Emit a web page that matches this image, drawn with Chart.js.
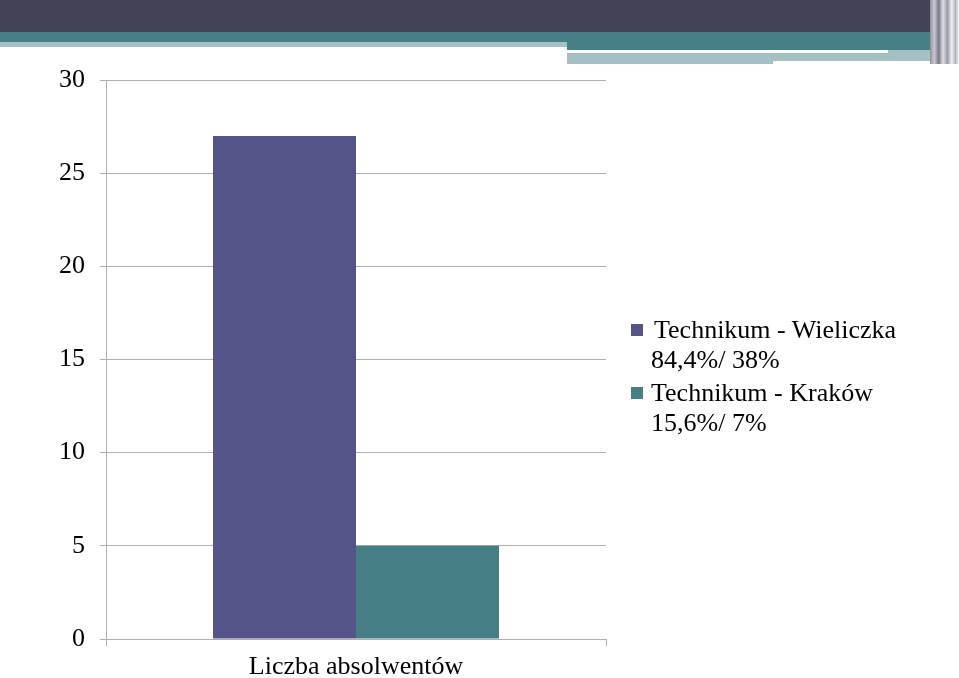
<!DOCTYPE html>
<html>
<head>
<meta charset="utf-8">
<script src="https://cdn.jsdelivr.net/npm/chart.js@4"></script>
<style>
  html,body{margin:0;padding:0;background:#fff;}
  #wrap{position:relative;width:959px;height:678px;overflow:hidden;font-family:"Liberation Serif",serif;}
  .deco{position:absolute;}
  #chartBox{position:absolute;left:0;top:0;width:959px;height:678px;}
  #legend{position:absolute;left:631px;top:315px;font-size:26px;color:#000;line-height:30px;}
  .item{position:relative;padding-left:20px;margin-bottom:3px;}
  .sw{position:absolute;left:0;top:9px;width:12px;height:12px;}
</style>
</head>
<body>
<div id="wrap">
  <!-- slide header decoration -->
  <div class="deco" style="left:0;top:0;width:959px;height:32px;background:#424355;"></div>
  <div class="deco" style="left:0;top:32px;width:959px;height:10px;background:#467f84;"></div>
  <div class="deco" style="left:0;top:42px;width:567px;height:5px;background:#a4c0c3;"></div>
  <div class="deco" style="left:567px;top:42px;width:370px;height:8px;background:#467f84;"></div>
  <div class="deco" style="left:567px;top:50px;width:321px;height:3px;background:#ffffff;"></div>
  <div class="deco" style="left:888px;top:50px;width:49px;height:3px;background:#a4c0c3;"></div>
  <div class="deco" style="left:567px;top:53px;width:206px;height:11px;background:#a4c0c3;"></div>
  <div class="deco" style="left:773px;top:53px;width:164px;height:8px;background:#a4c0c3;"></div>
  <div class="deco" style="left:930px;top:0;width:29px;height:64px;background:linear-gradient(90deg,#8f909c 0,#c8c9d0 15%,#777886 30%,#e0e0e6 45%,#9a9ba6 60%,#f2f2f5 75%,#b0b1ba 88%,#ffffff 100%);"></div>
  <div id="chartBox"><canvas id="chart"></canvas></div>
  <div id="legend"></div>
</div>
<script>
const categories = ["Liczba absolwentów"];
const seriesLabels = [
  ["Technikum - Wieliczka", "84,4%/ 38%"],
  ["Technikum - Kraków", "15,6%/ 7%"]
];
const wieliczka = [27];
const krakow = [5];
const yTicks = [0, 5, 10, 15, 20, 25, 30];
const colors = ["#545489", "#457f85"];

const font = "'Liberation Serif', serif";

const datasets = [wieliczka, krakow].map((d, i) => ({
  label: seriesLabels[i].join(" "),
  data: d,
  backgroundColor: colors[i],
  borderWidth: 0,
  categoryPercentage: 0.572,
  barPercentage: 1
}));

// -------- LEGEND --------
const legend = document.getElementById("legend");
seriesLabels.forEach((lines, i) => {
  const div = document.createElement("div");
  div.className = "item";
  div.innerHTML = `<span class="sw" style="background:${colors[i]}"></span>` +
    lines.map((t, j) => `<div style="${i === 0 && j === 0 ? 'padding-left:3px' : ''}">${t}</div>`).join("");
  legend.appendChild(div);
});

// -------- CHART --------
new Chart(document.getElementById("chart"), {
  type: "bar",
  data: { labels: categories, datasets },
  options: {
    responsive: true,
    maintainAspectRatio: false,
    animation: false,
    devicePixelRatio: 1,
    layout: { padding: { left: 0, top: 80, right: 353, bottom: 0 } },
    plugins: { legend: { display: false }, tooltip: { enabled: false } },
    scales: {
      x: {
        offset: true,
        grid: { display: true, drawOnChartArea: false, offset: true, color: "#b0b0b0", tickLength: 7 },
        border: { color: "#b0b0b0" },
        ticks: { color: "#000", font: { family: font, size: 26 }, padding: 6 },
        afterFit: s => { s.height = 39; }
      },
      y: {
        min: 0,
        max: 30,
        afterBuildTicks: s => { s.ticks = yTicks.map(v => ({ value: v })); },
        grid: { color: "#b0b0b0", tickLength: 6 },
        border: { color: "#b0b0b0" },
        ticks: { color: "#000", font: { family: font, size: 26 }, padding: 15 },
        afterFit: s => { s.width = 106; }
      }
    }
  }
});
</script>
</body>
</html>
